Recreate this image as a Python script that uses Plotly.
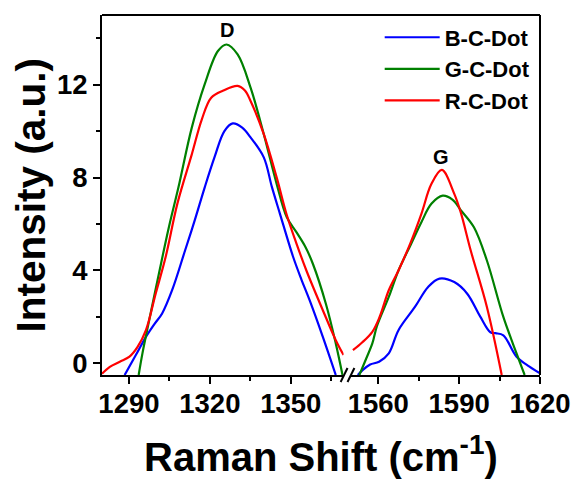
import plotly.graph_objects as go

# ---------------- data ----------------
b_left_x = [1288.4, 1292.5, 1296.3, 1299.5, 1302.3, 1306, 1310.8, 1314.5, 1318.1, 1321.8, 1325.4, 1328.5, 1332, 1335.1, 1340, 1343, 1346, 1350.9, 1354, 1357, 1361.9, 1366.7]
b_left_y = [-0.5, 0.35, 1.14, 1.7, 2.15, 3.15, 4.86, 6.2, 7.58, 8.9, 10.0, 10.33, 10.15, 9.73, 8.87, 7.6, 6.44, 4.58, 3.6, 2.72, 1.14, -0.5]
g_left_x = [1293.6, 1295, 1297.5, 1301.1, 1304.8, 1308.4, 1313.3, 1318.1, 1323, 1326.2, 1330.3, 1335.1, 1340, 1344.8, 1348.5, 1352.1, 1355.5, 1358.2, 1363, 1366.7, 1369.2]
g_left_y = [-0.5, 0.43, 1.86, 3.86, 5.86, 7.6, 10.15, 12.02, 13.45, 13.73, 13.3, 11.87, 9.87, 7.72, 6.3, 5.65, 5.0, 4.29, 2.58, 0.86, -0.5]
r_left_x = [1280, 1282.9, 1286.6, 1290.2, 1293.2, 1296.3, 1299.9, 1303.6, 1308, 1313.3, 1317, 1320.5, 1325, 1330.3, 1333, 1335.1, 1340, 1344.8, 1348.5, 1352, 1355.8, 1361.9, 1366.7, 1369.6]
r_left_y = [-0.45, -0.15, 0.07, 0.29, 0.71, 1.43, 3.0, 4.58, 6.9, 9.0, 10.5, 11.44, 11.75, 11.95, 11.75, 11.3, 9.87, 8.0, 6.4, 5.2, 4.0, 2.29, 1.0, 0.36]

b_right_x = [1552.4, 1554.2, 1557, 1560.3, 1563.9, 1567.5, 1573.6, 1578.5, 1582.7, 1588.2, 1593, 1597.9, 1601.6, 1603.5, 1606.4, 1611.3, 1616.1, 1620]
b_right_y = [-0.5, -0.29, -0.05, 0.07, 0.43, 1.43, 2.43, 3.29, 3.65, 3.5, 3.0, 2.0, 1.34, 1.3, 1.21, 0.29, -0.14, -0.43]
g_right_x = [1553, 1555.5, 1557.8, 1559.5, 1563.9, 1567.5, 1572, 1576, 1579.7, 1583.9, 1587.5, 1590.6, 1595.5, 1600.3, 1606.4, 1611.3, 1614.3]
g_right_y = [-0.5, 0.2, 0.86, 1.6, 2.86, 4.0, 5.1, 6.08, 6.87, 7.22, 7.05, 6.6, 5.86, 4.43, 2.0, 0.43, -0.5]
r_right_x = [1550.6, 1554, 1557.8, 1560.5, 1563.9, 1567.5, 1572, 1576, 1579.7, 1583.6, 1588.2, 1590.6, 1594.3, 1600.3, 1605.8]
r_right_y = [0.57, 0.9, 1.36, 2.0, 3.15, 4.0, 5.2, 6.44, 7.72, 8.33, 7.3, 6.5, 4.86, 2.43, -0.5]

series_names = ["B-C-Dot", "G-C-Dot", "R-C-Dot"]
series_colors = ["#0000FF", "#008000", "#FF0000"]

left_x_ticks = [1290, 1320, 1350]
right_x_ticks = [1560, 1590, 1620]
y_ticks = [0, 4, 8, 12]

peak_labels = ["D", "G"]
peak_pos = [(1326.5, 14.35, "x"), (1583.4, 8.9, "x2")]

FONT = "Liberation Sans, Arial, sans-serif"

fig = go.Figure()
lefts = [(b_left_x, b_left_y), (g_left_x, g_left_y), (r_left_x, r_left_y)]
rights = [(b_right_x, b_right_y), (g_right_x, g_right_y), (r_right_x, r_right_y)]
for name, col, (lx, ly), (rx, ry) in zip(series_names, series_colors, lefts, rights):
    fig.add_trace(go.Scatter(x=lx, y=ly, mode="lines", name=name, legendgroup=name,
                             line=dict(color=col, width=2.2, shape="spline", smoothing=1.0),
                             xaxis="x", yaxis="y", showlegend=True))
    fig.add_trace(go.Scatter(x=rx, y=ry, mode="lines", name=name, legendgroup=name,
                             line=dict(color=col, width=2.2, shape="spline", smoothing=1.0),
                             xaxis="x2", yaxis="y", showlegend=False))

axis_common = dict(showline=True, linecolor="black", linewidth=2, ticks="outside",
                   ticklen=7, tickwidth=2, tickcolor="black", showgrid=False, zeroline=False,
                   tickfont=dict(family=FONT, size=27.5, color="black", weight="bold"))

fig.update_layout(
    width=583, height=479,
    margin=dict(l=102, r=35, t=15, b=104),
    plot_bgcolor="white", paper_bgcolor="white",
    xaxis=dict(domain=[0, 246 / 446], range=[1280, 1369.6], tickvals=left_x_ticks,
               minor=dict(tickvals=[1305, 1335, 1365], ticklen=4, tickwidth=2, tickcolor="black", ticks="outside"),
               anchor="y", ticklabelstandoff=-4, **axis_common),
    xaxis2=dict(domain=[254 / 446, 1], range=[1550.05, 1620], tickvals=right_x_ticks,
                minor=dict(tickvals=[1575, 1605], ticklen=4, tickwidth=2, tickcolor="black", ticks="outside"),
                anchor="y", ticklabelstandoff=-4, **axis_common),
    yaxis=dict(range=[-0.5, 15], tickvals=y_ticks,
               minor=dict(tickvals=[2, 6, 10, 14], ticklen=4, tickwidth=2, tickcolor="black", ticks="outside"),
               anchor="x", **axis_common),
    showlegend=True,
    legend=dict(x=0.634, y=0.996, xanchor="left", yanchor="top", bgcolor="rgba(0,0,0,0)",
                font=dict(family=FONT, size=22, color="black", weight="bold"),
                itemwidth=55, tracegroupgap=0),
)

# frame: top and right lines
fig.add_shape(type="line", xref="paper", yref="paper", x0=0, x1=1, y0=1, y1=1,
              line=dict(color="black", width=2))
fig.add_shape(type="line", xref="paper", yref="paper", x0=1, x1=1, y0=0, y1=1,
              line=dict(color="black", width=2))

# axis break marks
def px2paper(px, py):
    return (px - 102) / 446, (375 - py) / 360

for x0 in (345, 352):
    a = px2paper(x0, 382)
    b = px2paper(x0 + 7, 368)
    fig.add_shape(type="line", xref="paper", yref="paper", x0=a[0], y0=a[1], x1=b[0], y1=b[1],
                  line=dict(color="black", width=2))

# peak labels
for lab, (px_, py_, xr) in zip(peak_labels, peak_pos):
    fig.add_annotation(x=px_, y=py_, xref=xr, yref="y", text=lab, showarrow=False,
                       font=dict(family=FONT, size=20, color="black", weight="bold"))

# axis titles
fig.add_annotation(x=0.5, y=-0.22, xref="paper", yref="paper", xanchor="center", yanchor="middle",
                   text="Raman Shift (cm<sup>-1</sup>)", showarrow=False,
                   font=dict(family=FONT, size=40, color="black", weight="bold"))
fig.add_annotation(x=-0.161, y=0.5, xref="paper", yref="paper", xanchor="center", yanchor="middle",
                   text="Intensity (a.u.)", showarrow=False, textangle=-90,
                   font=dict(family=FONT, size=40.5, color="black", weight="bold"))

fig.write_html("out.html")
